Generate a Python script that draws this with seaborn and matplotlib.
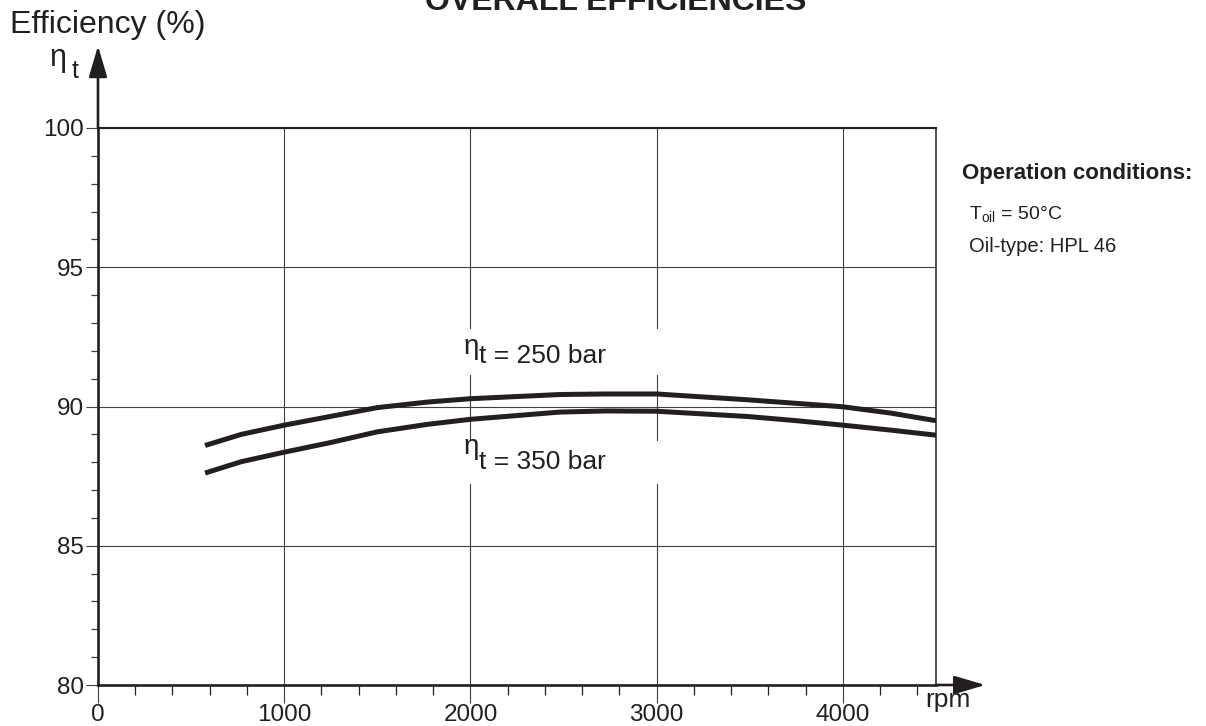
import matplotlib
matplotlib.use("Agg")
import matplotlib.pyplot as plt
from matplotlib.patches import Rectangle
from matplotlib.ticker import MultipleLocator
import numpy as np
import pandas as pd
import seaborn as sns

# ---- data ----
rpm = [575, 770, 1000, 1245, 1500, 1770, 2000, 2480, 2730, 3000, 3490, 3735, 4000, 4260, 4500]
eff_250 = [88.60, 89.00, 89.33, 89.64, 89.96, 90.16, 90.28, 90.43, 90.45, 90.45,
           90.24, 90.12, 89.99, 89.76, 89.49]
eff_350 = [87.61, 88.02, 88.36, 88.70, 89.09, 89.36, 89.54, 89.80, 89.84, 89.83,
           89.64, 89.50, 89.33, 89.15, 88.97]
series_names = ["250 bar", "350 bar"]
x_ticks = [0, 1000, 2000, 3000, 4000]
y_ticks = [80, 85, 90, 95, 100]

sns.set_style("white")
plt.rcParams["font.family"] = ["Liberation Sans", "DejaVu Sans"]
plt.rcParams["mathtext.fontset"] = "custom"
plt.rcParams["mathtext.rm"] = "Liberation Sans"

INK = "#231f20"
GRID = "#404040"

df = pd.DataFrame({
    "rpm": rpm * 2,
    "eff": eff_250 + eff_350,
    "series": [series_names[0]] * len(rpm) + [series_names[1]] * len(rpm),
})

W, H = 1206, 726
fig = plt.figure(figsize=(W / 100, H / 100), dpi=100)
ax = fig.add_axes([98 / W, 1 - 685 / H, (936 - 98) / W, (685 - 128) / H])

sns.lineplot(data=df, x="rpm", y="eff", hue="series", palette=[INK, INK],
             linewidth=3.6, legend=False, ax=ax, zorder=5, solid_capstyle="butt",
             solid_joinstyle="round")

ax.set_xlim(0, 4500)
ax.set_ylim(80, 100)
ax.set_xticks(x_ticks)
ax.set_yticks(y_ticks)
ax.xaxis.set_minor_locator(MultipleLocator(200))
ax.yaxis.set_minor_locator(MultipleLocator(1))
ax.set_xlabel("")
ax.set_ylabel("")

ax.grid(True, which="major", color=GRID, linewidth=0.8, zorder=0)
ax.set_axisbelow(True)

for s, lw in [("left", 1.9), ("bottom", 1.9), ("top", 1.5), ("right", 1.1)]:
    ax.spines[s].set_visible(True)
    ax.spines[s].set_linewidth(lw)
    ax.spines[s].set_color(INK)
    ax.spines[s].set_zorder(6)

ax.tick_params(axis="x", which="major", direction="out", length=13, width=0.8,
               color=GRID, pad=1, labelsize=17.5, labelcolor=INK, bottom=True)
ax.tick_params(axis="x", which="minor", direction="out", length=7, width=0.9,
               color=INK, bottom=True)
ax.tick_params(axis="y", which="major", direction="out", length=9, width=0.8,
               color=GRID, pad=1, labelsize=17.5, labelcolor=INK, left=True)
ax.tick_params(axis="y", which="minor", direction="out", length=5, width=0.9,
               color=GRID, left=True)

# white boxes interrupting the gridlines behind the labels
for y0, y1 in [(91.13, 92.77), (87.23, 88.76)]:
    ax.add_patch(Rectangle((1900, y0), 1250, y1 - y0, facecolor="white",
                           edgecolor="none", zorder=2))

# curve labels
ax.text(1962, 92.15, "η", fontsize=20, color=INK, ha="left", va="center", zorder=4)
ax.text(2046, 91.82, "t = 250 bar", fontsize=19, color=INK, ha="left", va="center", zorder=4)
ax.text(1962, 88.55, "η", fontsize=20, color=INK, ha="left", va="center", zorder=4)
ax.text(2046, 87.99, "t = 350 bar", fontsize=19, color=INK, ha="left", va="center", zorder=4)

# axis arrows
arrow_kw = dict(arrowstyle="-|>,head_length=0.95,head_width=0.28", lw=1.9,
                color=INK, shrinkA=0, shrinkB=0, mutation_scale=20)
ax.annotate("", xy=(0, 102.95), xytext=(0, 100), arrowprops=arrow_kw,
            annotation_clip=False)
ax.annotate("", xy=(4765, 80), xytext=(4500, 80), arrowprops=arrow_kw,
            annotation_clip=False)

# figure texts
def fx(px):
    return px / W

def fy(py):
    return 1 - py / H

fig.text(fx(616), fy(9.5), "OVERALL EFFICIENCIES", fontsize=23, fontweight="bold",
         color=INK, ha="center", va="baseline")
fig.text(fx(10), fy(25), "Efficiency (%)", fontsize=23, color=INK, ha="left", va="center")
fig.text(fx(49), fy(58), "η", fontsize=22, color=INK, ha="left", va="center")
fig.text(fx(72), fy(71), "t", fontsize=18, color=INK, ha="left", va="center")
fig.text(fx(948), fy(700), "rpm", fontsize=19, color=INK, ha="center", va="center")

fig.text(fx(962), fy(173), "Operation conditions:", fontsize=16, fontweight="bold",
         color=INK, ha="left", va="center")
fig.text(fx(969), fy(215), r"T$_{\mathregular{oil}}$ = 50°C", fontsize=14, color=INK,
         ha="left", va="center")
fig.text(fx(969), fy(246), "Oil-type: HPL 46", fontsize=14.5, color=INK,
         ha="left", va="center")

fig.savefig("out.png", dpi=100, facecolor="white")
